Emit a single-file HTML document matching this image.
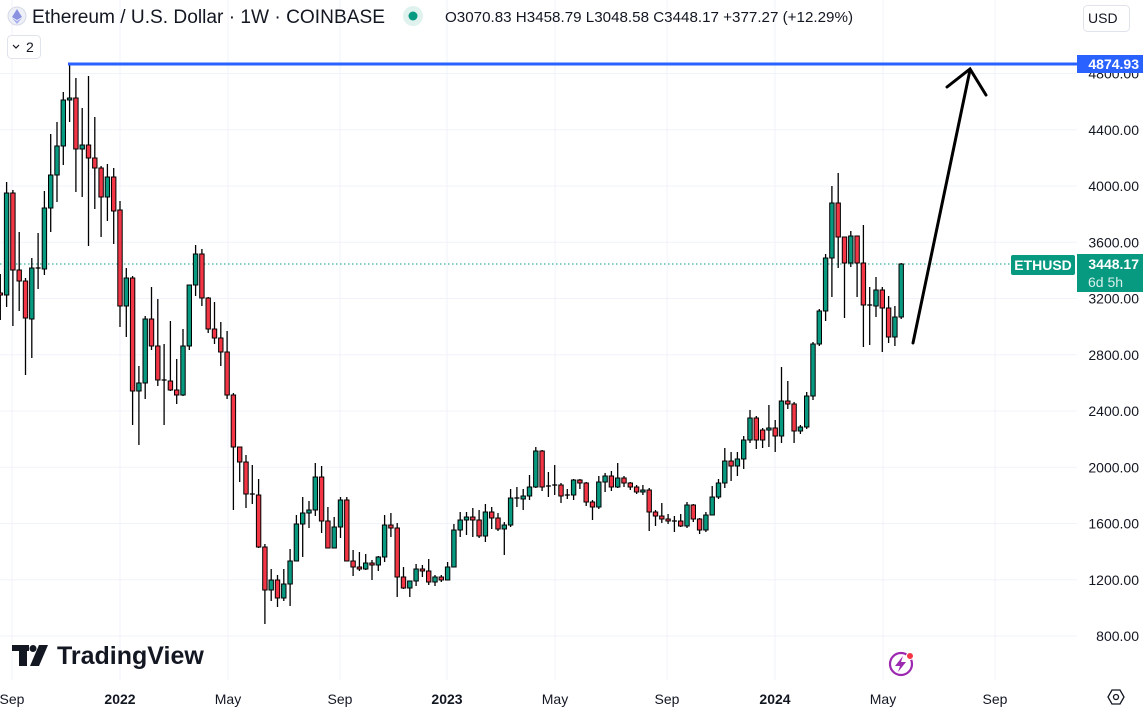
<!DOCTYPE html>
<html><head><meta charset="utf-8"><style>
html,body{margin:0;padding:0;background:#fff;}
body{width:1143px;height:710px;overflow:hidden;position:relative;font-family:"Liberation Sans",sans-serif;color:#131722;}
svg{position:absolute;left:0;top:0;}
</style></head><body>
<svg id="c" width="1143" height="710" xmlns="http://www.w3.org/2000/svg">
<g id="grid" stroke="#f0f3fa" stroke-width="1"></g>
<line x1="0" y1="264" x2="1011" y2="264" stroke="#089981" stroke-width="1" stroke-dasharray="1.5,2.5"/>
<g id="candles"></g>
<line x1="68" y1="64" x2="1077" y2="64" stroke="#2962ff" stroke-width="3"/>
<g stroke="#000" stroke-width="3" fill="none" stroke-linecap="round">
<line x1="913" y1="343" x2="970" y2="70"/>
<polyline points="947,87 970,69 986,95"/>
</g>
<g font-size="14" fill="#131722" text-anchor="end" id="plabels"></g>
<rect x="1077" y="55" width="66" height="18" fill="#2962ff"/>
<text x="1139" y="69" font-size="14" fill="#fff" text-anchor="end" font-weight="bold">4874.93</text>
<rect x="1011" y="255" width="64" height="20" rx="2" fill="#089981"/>
<text x="1043" y="270" font-size="14" fill="#fff" text-anchor="middle" font-weight="bold">ETHUSD</text>
<rect x="1077" y="254" width="66" height="38" fill="#089981"/>
<text x="1139" y="269" font-size="14" fill="#fff" text-anchor="end" font-weight="bold">3448.17</text>
<text x="1088" y="287" font-size="14" fill="#d8f0ea">6d 5h</text>
<g font-size="14" fill="#131722" text-anchor="middle">
<text x="12" y="704">Sep</text>
<text x="120" y="704" font-weight="bold">2022</text>
<text x="228" y="704">May</text>
<text x="340" y="704">Sep</text>
<text x="447" y="704" font-weight="bold">2023</text>
<text x="555" y="704">May</text>
<text x="667" y="704">Sep</text>
<text x="775" y="704" font-weight="bold">2024</text>
<text x="883" y="704">May</text>
<text x="995" y="704">Sep</text>
</g>
<polygon points="1108,697 1112,690 1120,690 1124,697 1120,704 1112,704" fill="none" stroke="#131722" stroke-width="1.3"/>
<circle cx="1116" cy="697" r="2.5" fill="none" stroke="#131722" stroke-width="1.3"/>
<!-- header -->
<circle cx="17" cy="16" r="9" fill="#eef0f8" stroke="#d5d8e6"/>
<polygon points="17,9 12,17 17,20 22,17" fill="#8a92e0"/>
<polygon points="12,18 17,24 22,18 17,21" fill="#a9aff0"/>
<text x="32" y="23" font-size="19" fill="#131722" textLength="353" lengthAdjust="spacingAndGlyphs">Ethereum / U.S. Dollar · 1W · COINBASE</text>
<circle cx="413" cy="16" r="10" fill="#dff2ee"/>
<circle cx="413" cy="16" r="4.5" fill="#089981"/>
<text x="445" y="22" font-size="15" fill="#131722" textLength="408" lengthAdjust="spacingAndGlyphs">O3070.83 H3458.79 L3048.58 C3448.17 +377.27 (+12.29%)</text>
<rect x="7.5" y="35.5" width="33" height="23" rx="4" fill="#fff" stroke="#e0e3eb"/>
<polyline points="13,45 16,48 19,45" fill="none" stroke="#131722" stroke-width="1.2"/>
<text x="26" y="52" font-size="14" fill="#131722">2</text>
<rect x="1083.5" y="5.5" width="46" height="26" rx="4" fill="#fff" stroke="#e0e3eb"/>
<text x="1088" y="23" font-size="14" fill="#131722">USD</text>
<!-- logo -->
<g fill="#131722">
<rect x="12" y="645" width="17" height="6"/>
<rect x="19" y="645" width="8" height="21"/>
<circle cx="33" cy="648.5" r="3.5"/>
<polygon points="39,645 48,645 39,666 30,666"/>
</g>
<text x="57" y="664" font-size="25" font-weight="bold" fill="#131722">TradingView</text>
<circle cx="901" cy="664" r="11" fill="none" stroke="#9c27b0" stroke-width="2.2"/>
<polygon points="903,656 895,666 900,666 898,672 906,662 901,662" fill="#9c27b0"/>
<circle cx="910" cy="656" r="3.5" fill="#f23645" stroke="#fff" stroke-width="1"/>
</svg>
<script>
var ns="http://www.w3.org/2000/svg";
function el(t,a,p){var e=document.createElementNS(ns,t);for(var k in a)e.setAttribute(k,a[k]);p.appendChild(e);return e;}
var g=document.getElementById('grid');
[12,120,228,340,447,555,667,775,883,995].forEach(function(x){el('line',{x1:x,y1:0,x2:x,y2:680},g);});
var pl=document.getElementById('plabels');
for(var p=800;p<=4800;p+=400){var y=186+(4000-p)*0.140625;el('line',{x1:0,y1:y,x2:1077,y2:y},g);
 var t=el('text',{x:1139,y:y+5},pl);t.textContent=p.toFixed(2);}
var d=[[293,295,274,320],[295,193,182,307],[193,270,190,326],[270,281,232,311],[281,318,278,375],[319,268,258,358],[268,268,233,289],[269,208,191,275],[208,175,134,232],[175,146,122,202],[146,100,92,165],[100,98,64,122],[98,149,78,192],[149,145,108,197],[145,158,76,246],[158,168,117,209],[168,197,166,237],[197,177,164,221],[177,211,168,244],[210,306,201,327],[306,278,268,337],[278,391,276,425],[391,383,366,445],[383,319,316,399],[319,346,287,350],[346,380,299,386],[380,380,344,425],[381,390,321,391],[390,395,359,404],[395,346,329,396],[346,285,285,350],[285,254,245,296],[254,298,249,306],[298,329,297,333],[329,338,302,344],[338,352,322,366],[352,395,331,399],[395,447,393,510],[447,462,447,482],[462,494,455,508],[494,494,465,504],[495,547,479,548],[547,590,544,624],[590,580,569,601],[580,598,575,607],[598,584,569,601],[584,561,549,606],[561,524,515,561],[524,513,497,557],[513,510,501,528],[510,477,463,516],[477,521,466,533],[521,548,507,548],[548,527,517,548],[527,500,497,538],[500,561,497,561],[561,567,550,576],[567,569,552,571],[569,563,554,570],[563,565,560,580],[565,557,556,571],[557,525,515,562],[525,528,513,537],[528,577,523,597],[577,588,567,589],[588,581,581,597],[581,569,564,586],[569,571,565,577],[571,582,559,585],[582,577,575,586],[577,580,575,582],[580,567,562,580],[567,530,524,567],[530,520,512,537],[520,517,512,535],[517,520,508,537],[520,536,510,538],[536,512,504,542],[512,518,507,529],[518,529,513,531],[529,525,522,555],[525,498,489,527],[498,498,487,507],[499,496,489,510],[496,487,475,500],[487,451,447,488],[451,487,450,491],[486,486,472,497],[485,485,465,495],[485,496,483,503],[495,495,489,499],[495,480,479,500],[480,483,479,489],[483,502,482,506],[502,507,500,520],[507,482,476,509],[482,476,473,492],[476,487,471,491],[487,478,463,488],[478,483,476,487],[483,487,482,490],[487,492,485,494],[492,490,485,495],[490,512,488,531],[512,516,510,526],[516,519,503,523],[519,521,514,524],[521,521,516,532],[521,526,514,527],[526,505,502,528],[505,519,504,522],[519,530,518,534],[530,515,512,532],[515,497,486,515],[497,483,479,499],[483,461,448,488],[461,466,452,481],[466,459,452,476],[459,440,436,469],[440,418,410,443],[418,440,416,449],[430,440,428,448],[430,428,405,447],[428,436,420,452],[436,401,367,443],[401,404,381,409],[404,431,402,443],[431,427,425,434],[427,396,392,429],[396,344,342,400],[344,311,309,346],[311,258,254,321],[258,203,186,297],[203,237,173,268],[237,263,237,318],[263,236,231,267],[236,263,236,297],[263,305,225,347],[305,305,287,345],[306,290,277,317],[290,308,287,352],[308,337,296,343],[337,317,306,346],[317,264,263,319]];
var cg=document.getElementById('candles');
d.forEach(function(c,i){var x=0.3+i*6.3;var o=c[0],cl=c[1],h=c[2],l=c[3];
 el('line',{x1:x,y1:h,x2:x,y2:l,stroke:'#000','stroke-width':1.3},cg);
 var top=Math.min(o,cl),bh=Math.abs(o-cl);
 if(bh<1){el('line',{x1:x-2.5,y1:o,x2:x+2.5,y2:o,stroke:'#000','stroke-width':1.3},cg);}
 else el('rect',{x:x-2.2,y:top,width:4.4,height:bh,fill:(cl<o?'#089981':'#f23645'),stroke:'#000','stroke-width':1},cg);
});
</script>
</body></html>
